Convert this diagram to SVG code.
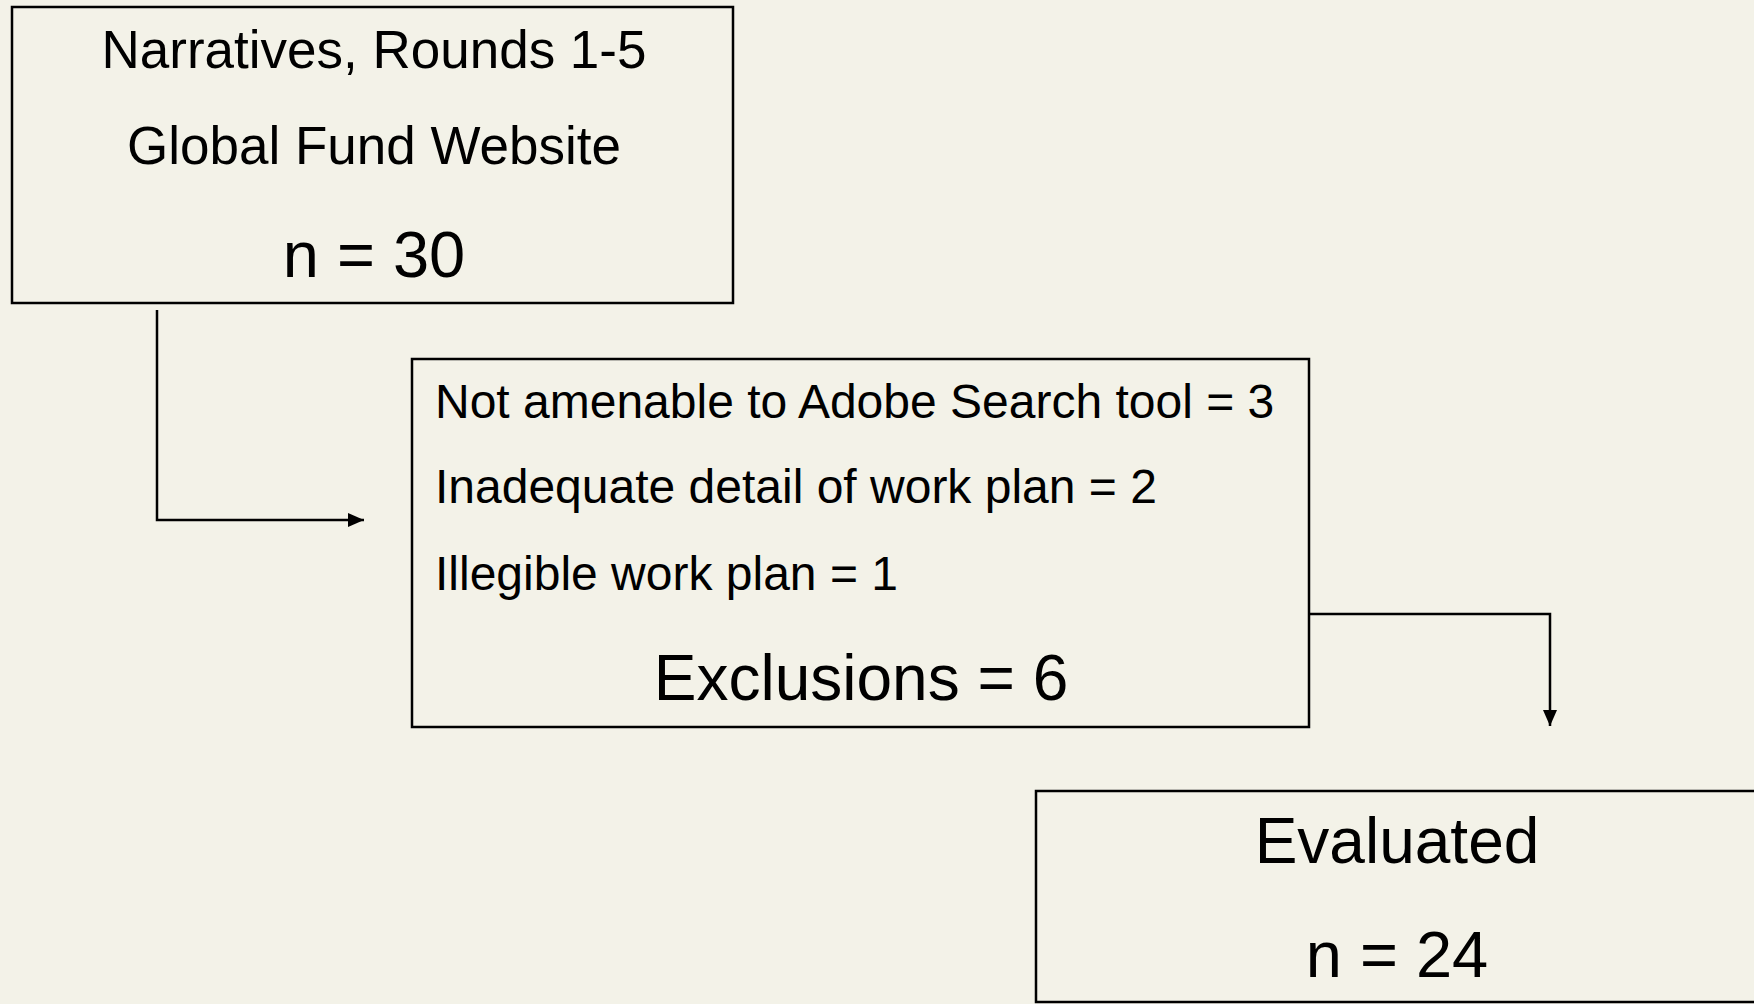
<svg xmlns="http://www.w3.org/2000/svg" width="1754" height="1004" viewBox="0 0 1754 1004">
<style>
.box{fill:none;stroke:#000;stroke-width:2.5}
.t{font-family:"Liberation Sans",Arial,sans-serif;fill:#000}
.c{text-anchor:middle}
.con{fill:none;stroke:#000;stroke-width:2.5}
</style>
<defs>
<marker id="ah" markerWidth="16" markerHeight="14" refX="16" refY="7" orient="auto" markerUnits="userSpaceOnUse">
<path d="M0,0 L16,7 L0,14 Z" fill="#000"/>
</marker>
</defs>
<rect width="1754" height="1004" fill="#F3F2E8"/>
<g id="connectors">
<path class="con" d="M157,310 V520 H364" marker-end="url(#ah)"/>
<path class="con" d="M1309,614 H1550 V726" marker-end="url(#ah)"/>
</g>
<g id="node-source">
<rect class="box" x="12" y="7" width="721" height="296"/>
<text class="t c" x="374" y="68" font-size="53">Narratives, Rounds 1-5</text>
<text class="t c" x="374" y="164" font-size="53">Global Fund Website</text>
<text class="t c" x="374" y="277" font-size="65">n = 30</text>
</g>
<g id="node-exclusions">
<rect class="box" x="412" y="359" width="897" height="368"/>
<text class="t" x="435" y="418" font-size="48">Not amenable to Adobe Search tool = 3</text>
<text class="t" x="435" y="503" font-size="48">Inadequate detail of work plan = 2</text>
<text class="t" x="435" y="590" font-size="48">Illegible work plan = 1</text>
<text class="t c" x="861" y="700" font-size="64">Exclusions = 6</text>
</g>
<g id="node-evaluated">
<rect class="box" x="1036" y="791" width="722" height="211"/>
<text class="t c" x="1397" y="863" font-size="64">Evaluated</text>
<text class="t c" x="1397" y="977" font-size="65">n = 24</text>
</g>
</svg>
